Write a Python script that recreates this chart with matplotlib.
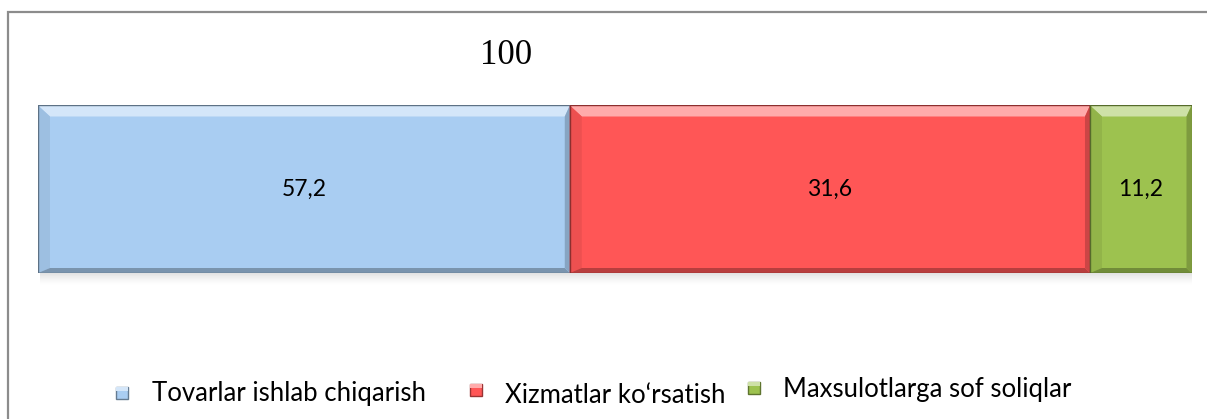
import matplotlib
matplotlib.use("Agg")
import matplotlib.pyplot as plt
import numpy as np
from matplotlib.patches import Rectangle, Polygon
from matplotlib.colors import to_rgb

# data
series_names = ["Tovarlar ishlab chiqarish", "Xizmatlar ko\u2018rsatish", "Maxsulotlarga sof soliqlar"]
bar_lengths = [46.1, 45.1, 8.8]          # drawn segment lengths (share of bar)
value_labels = ["57,2", "31,6", "11,2"]   # labels printed on the segments
total_label = "100"
colors = ["#A9CDF2", "#FF5656", "#9DC24F"]

W, H = 1207, 419
fig = plt.figure(figsize=(W / 100, H / 100), dpi=100)
fig.patch.set_facecolor("white")

def mix(c, other, t):
    c = np.array(to_rgb(c)); o = np.array(to_rgb(other))
    return tuple(c * (1 - t) + o * t)

# outer frame (cut off on right and bottom)
fig.add_artist(Rectangle((8 / W, -0.05), 1.2, 1 - 12 / H + 0.05, transform=fig.transFigure,
                         fill=False, edgecolor="#8C8C8C", lw=1.6))

# axes spanning the bar band
left_px, right_px, top_px, bot_px = 38, 1191.5, 105.5, 273
ax = fig.add_axes([left_px / W, 1 - bot_px / H, (right_px - left_px) / W, (bot_px - top_px) / H])
ax.set_xlim(0, 100)
ax.set_ylim(-0.5, 0.5)
ax.axis("off")

ux = 100 / (right_px - left_px)   # data units per pixel
uy = 1 / (bot_px - top_px)

starts = np.concatenate([[0], np.cumsum(bar_lengths)[:-1]])

# drop shadow under the bar
for k in range(12):
    ax.add_patch(Rectangle((starts[0] + 2 * ux, -0.5 - (k + 1) * uy), sum(bar_lengths) - 2 * ux, uy,
                           facecolor="#808080", alpha=0.22 * (1 - k / 12) ** 1.5,
                           lw=0, clip_on=False))

bars = ax.barh(0, bar_lengths, left=starts, height=1, color=colors,
               edgecolor=[mix(c, "black", 0.45) for c in colors], lw=1)

for rect, c, lab in zip(bars, colors, value_labels):
    x0, y0 = rect.get_x(), rect.get_y()
    x1, y1 = x0 + rect.get_width(), y0 + rect.get_height()
    dl, dr, dt, db = 12 * ux, 5 * ux, 11 * uy, 5 * uy
    ix0, ix1, iy0, iy1 = x0 + dl, x1 - dr, y0 + db, y1 - dt
    ax.add_patch(Polygon([(x0, y1), (x1, y1), (ix1, iy1), (ix0, iy1)],
                         facecolor=mix(c, "white", 0.5), lw=0))
    ax.add_patch(Polygon([(x0, y0), (x0, y1), (ix0, iy1), (ix0, iy0)],
                         facecolor=mix(c, "black", 0.07), lw=0))
    ax.add_patch(Polygon([(x0, y0), (x1, y0), (ix1, iy0), (ix0, iy0)],
                         facecolor=mix(c, "black", 0.28), lw=0))
    ax.add_patch(Polygon([(x1, y0), (x1, y1), (ix1, iy1), (ix1, iy0)],
                         facecolor=mix(c, "black", 0.2), lw=0))
    ax.add_patch(Rectangle((x0, y0), x1 - x0, y1 - y0, fill=False,
                           edgecolor=mix(c, "black", 0.45), lw=1))
    ax.text((x0 + x1) / 2, 0, lab, ha="center", va="center",
            fontsize=16.5, family="Lato", color="black")

fig.text(506 / W, 1 - 55 / H, total_label, ha="center", va="center",
         fontsize=25, family="Liberation Serif")

# legend: marker centre x, marker centre y, text x, text baseline y (pixels)
legend_items = [(122, 393, 152, 401), (476, 390, 505, 403), (754, 388, 783, 397)]
for (mx, my, tx, ty), c, name in zip(legend_items, colors, series_names):
    fig.add_artist(Rectangle(((mx - 6) / W, 1 - (my + 6) / H), 12 / W, 12 / H,
                             transform=fig.transFigure, facecolor=c,
                             edgecolor=mix(c, "black", 0.4), lw=1))
    fig.add_artist(Rectangle(((mx - 6) / W, 1 - (my - 2) / H), 12 / W, 4 / H,
                             transform=fig.transFigure, facecolor=mix(c, "white", 0.5), lw=0))
    fig.text(tx / W, 1 - ty / H, name, ha="left", va="baseline",
             fontsize=18.5, family="Lato", color="black")

fig.savefig("out.png", dpi=100)
